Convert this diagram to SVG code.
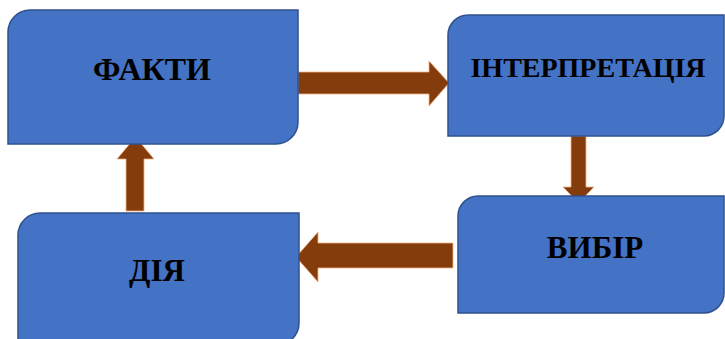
<svg xmlns="http://www.w3.org/2000/svg" width="725" height="339" viewBox="0 0 725 339">
  <style>
    .box { fill: #4472C4; stroke: #2F528F; stroke-width: 1.5; }
    .arrow { fill: #843C0C; stroke: #F4B183; stroke-width: 0.8; }
    .label { font-family: "Liberation Serif", "Times New Roman", serif; font-weight: bold; fill: #000; text-anchor: middle; }
  </style>
  <rect width="725" height="339" fill="#FFFFFF"/>

  <!-- connectors: block arrows -->
  <g id="connectors">
    <polygon class="arrow" points="298,72 429,72 429,61 449,83 429,106 429,94 298,94"/>
    <polygon class="arrow" points="571,136 586,136 586,187 594,187 578.5,203 563,187 571,187"/>
    <polygon class="arrow" points="453,243 318,243 318,232 296,257 318,282 318,268 453,268"/>
    <polygon class="arrow" points="126,211 126,159 117,159 135.5,137 154,159 144,159 144,211"/>
  </g>

  <!-- nodes: rectangles with top-left and bottom-right corners rounded -->
  <g id="node-facts">
    <path class="box" d="M30,10 H298 V122 A22,22 0 0 1 276,144 H8 V32 A22,22 0 0 1 30,10 Z"/>
    <text class="label" x="152" y="80" font-size="32">ФАКТИ</text>
  </g>
  <g id="node-interpretation">
    <path class="box" d="M468,15 H724 V116 A20,20 0 0 1 704,136 H448 V35 A20,20 0 0 1 468,15 Z"/>
    <text class="label" x="588" y="77" font-size="28">ІНТЕРПРЕТАЦІЯ</text>
  </g>
  <g id="node-choice">
    <path class="box" d="M478,196 H724 V293 A20,20 0 0 1 704,313 H458 V216 A20,20 0 0 1 478,196 Z"/>
    <text class="label" x="595" y="258" font-size="31">ВИБІР</text>
  </g>
  <g id="node-action">
    <path class="box" d="M40,213 H299 V323 A22,22 0 0 1 277,345 H18 V235 A22,22 0 0 1 40,213 Z"/>
    <text class="label" x="157" y="281" font-size="31">ДІЯ</text>
  </g>
</svg>
